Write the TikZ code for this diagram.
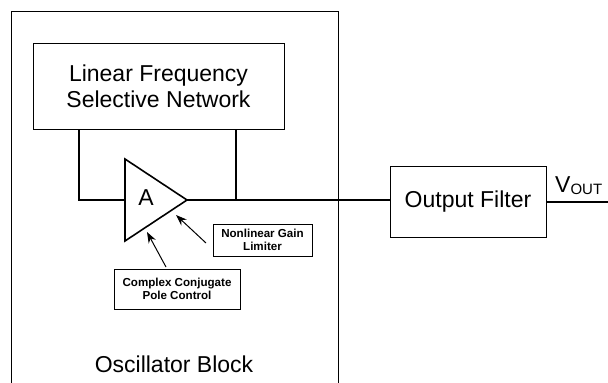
\documentclass[tikz,border=0pt]{standalone}
\usepackage{fontspec}
\setmainfont{Liberation Sans}
\usetikzlibrary{arrows.meta,calc}
\begin{document}
\begin{tikzpicture}[x=1pt,y=-1pt,
  bigtext/.style={font=\fontsize{23}{26}\selectfont},
  smalltext/.style={font=\bfseries\fontsize{11.6}{13.5}\selectfont},
  block/.style={draw,line width=1pt,rectangle,inner sep=0pt,align=center},
  wire/.style={line width=1.6pt},
  ctrl/.style={line width=1pt,-{Stealth[length=11pt,width=8pt]}}]
\useasboundingbox (0,0) rectangle (608,383);
% outer oscillator block (open at bottom)
\draw[line width=1pt] (11,384) -- (11,11) -- (338,11) -- (338,384);
\node[bigtext] (osc) at (174,364) {Oscillator Block};
% blocks
\node[block,bigtext,minimum width=251pt,minimum height=86pt] (lfsn) at (158.5,86) {Linear Frequency\\Selective Network};
\node[block,bigtext,minimum width=156pt,minimum height=71pt] (filt) at (468,201.5) {Output Filter};
\node[block,smalltext,minimum width=99pt,minimum height=32pt] (ngl) at (262.5,240) {Nonlinear Gain\\Limiter};
\node[block,smalltext,minimum width=126pt,minimum height=40pt] (ccpc) at (177,289) {Complex Conjugate\\Pole Control};
% amplifier triangle
\coordinate (ampT) at (125,159);
\coordinate (ampB) at (125,241);
\coordinate (ampOut) at (187,200);
\coordinate (ampIn) at (125,200);
\draw[line width=1.6pt,line join=miter] (ampT) -- (ampB) -- (ampOut) -- cycle;
\node[bigtext] (amp) at (146,198) {A};
% feedback wires
\coordinate (fbL) at (79,200);
\coordinate (fbR) at (236,200);
\draw[wire] (lfsn.south -| fbL) -- (fbL) -- (ampIn);
\draw[wire] (lfsn.south -| fbR) -- (fbR);
\draw[wire] (ampOut) -- (ampOut -| filt.west);
\coordinate (voutEnd) at (608,202);
\draw[wire] (filt.east |- voutEnd) -- (voutEnd);
\node[bigtext,anchor=base west,inner sep=0pt] (vout) at (555,192) {V\raisebox{-2pt}{\fontsize{15}{15}\selectfont OUT}};
% control arrows
\coordinate (nglTail) at (206,243);
\coordinate (nglHead) at (176,215);
\coordinate (ccTail) at (166,267);
\coordinate (ccHead) at (147,232);
\draw[ctrl] (nglTail) -- (nglHead);
\draw[ctrl] (ccTail) -- (ccHead);
\end{tikzpicture}
\end{document}
